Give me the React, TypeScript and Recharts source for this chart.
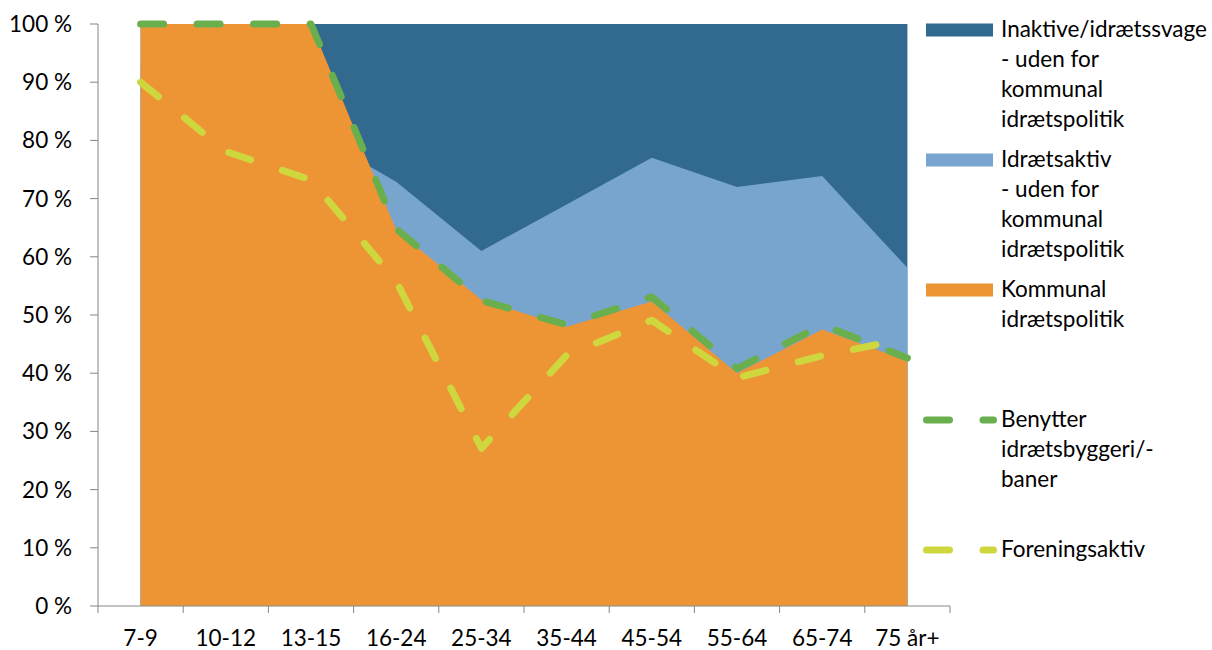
import { ComposedChart, Area, Line, XAxis, YAxis } from 'recharts'

const categories = ['7-9', '10-12', '13-15', '16-24', '25-34', '35-44', '45-54', '55-64', '65-74', '75 år+']

// the three bands overlap (not stacked), so these are the top edges in %
const inaktivTop = [100, 100, 100, 100, 100, 100, 100, 100, 100, 100]
const idraetsaktivTop = [92, 88, 81.3, 72.9, 61, 69, 77, 72, 73.9, 58.1]
const kommunal = [100, 100, 100, 64.6, 52.6, 48, 52.3, 40, 47.5, 42.1]

const benytter = [100, 100, 100, 64.8, 52.5, 48.3, 53.1, 40.8, 48.3, 42.6]
const foreningsaktiv = [90, 78.1, 73.2, 55.8, 27.1, 43.1, 49.1, 39.2, 43, 46]

const yTicks = [0, 10, 20, 30, 40, 50, 60, 70, 80, 90, 100]

const areaSeries = [
  { key: 'inaktiv', color: '#32698f', lines: ['Inaktive/idrætssvage', '- uden for', 'kommunal', 'idrætspolitik'] },
  { key: 'idraetsaktiv', color: '#78a5cd', lines: ['Idrætsaktiv', '- uden for', 'kommunal', 'idrætspolitik'] },
  { key: 'kommunal', color: '#ed9535', lines: ['Kommunal', 'idrætspolitik'] },
]
const lineSeries = [
  { key: 'benytter', color: '#6aaf4d', lines: ['Benytter', 'idrætsbyggeri/-', 'baner'] },
  { key: 'foreningsaktiv', color: '#ced83e', lines: ['Foreningsaktiv'] },
]

const data = categories.map((age, i) => ({
  age,
  inaktiv: inaktivTop[i],
  idraetsaktiv: idraetsaktivTop[i],
  kommunal: kommunal[i],
  benytter: benytter[i],
  foreningsaktiv: foreningsaktiv[i],
}))

const W = 1212
const H = 650
const PLOT_LEFT = 98
const PLOT_RIGHT = 950
const PLOT_TOP = 24
const PLOT_BOTTOM = 606
const BAND = (PLOT_RIGHT - PLOT_LEFT) / categories.length
const AXIS = '#868686'
const FONT = 'Lato, "Open Sans", sans-serif'
const FONT_SIZE = 22.5
const DASH = '23 33.5'

function AgeTick(props: any) {
  const { x, payload, index } = props
  const half = payload?.offset || BAND / 2
  const last = index === categories.length - 1
  return (
    <g>
      <line x1={x - half} x2={x - half} y1={PLOT_BOTTOM} y2={PLOT_BOTTOM + 7} stroke={AXIS} />
      {last && <line x1={x + half} x2={x + half} y1={PLOT_BOTTOM} y2={PLOT_BOTTOM + 7} stroke={AXIS} />}
      <text x={x} y={PLOT_BOTTOM + 40} textAnchor="middle" fontSize={FONT_SIZE} fontFamily={FONT} fill="#000">
        {payload.value}
      </text>
    </g>
  )
}

function LegendBox() {
  const entries = [...areaSeries.map((s) => ({ ...s, kind: 'area' })), ...lineSeries.map((s) => ({ ...s, kind: 'line' }))]
  return (
    <svg width={302} height={H} style={{ position: 'absolute', left: 910, top: 0 }}>
      {entries.map((e, i) => {
        const cy = 30 + i * 130
        return (
          <g key={e.key}>
            {e.kind === 'area' ? (
              <rect x={16} y={cy - 6.5} width={67} height={13} fill={e.color} />
            ) : (
              <line
                x1={16.5}
                x2={83.5}
                y1={cy}
                y2={cy}
                stroke={e.color}
                strokeWidth={7}
                strokeLinecap="round"
                strokeDasharray={DASH}
              />
            )}
            <text x={91} y={cy + 6.5} fontSize={FONT_SIZE} fontFamily={FONT} fill="#000">
              {e.lines.map((l, j) => (
                <tspan key={j} x={91} dy={j === 0 ? 0 : 30}>
                  {l}
                </tspan>
              ))}
            </text>
          </g>
        )
      })}
    </svg>
  )
}

export default function App() {
  return (
    <div style={{ position: 'absolute', left: 0, top: 0, width: W, height: H, background: '#fff' }}>
      <ComposedChart
        width={W}
        height={H}
        data={data}
        margin={{ top: PLOT_TOP, right: W - PLOT_RIGHT, bottom: 0, left: 0 }}
      >
        <XAxis
          dataKey="age"
          scale="band"
          interval={0}
          height={H - PLOT_BOTTOM}
          tickLine={false}
          axisLine={{ stroke: AXIS }}
          tick={<AgeTick />}
        />
        <YAxis
          domain={[0, 100]}
          ticks={yTicks}
          width={PLOT_LEFT}
          tickSize={8}
          tickMargin={18}
          tickFormatter={(v) => `${v} %`}
          axisLine={{ stroke: AXIS }}
          tickLine={{ stroke: AXIS }}
          tick={{ fontSize: FONT_SIZE, fill: '#000', fontFamily: FONT }}
        />
        {areaSeries.map((s) => (
          <Area
            key={s.key}
            type="linear"
            dataKey={s.key}
            stroke="none"
            fill={s.color}
            fillOpacity={1}
            dot={false}
            activeDot={false}
            isAnimationActive={false}
          />
        ))}
        {lineSeries.map((s) => (
          <Line
            key={s.key}
            type="linear"
            dataKey={s.key}
            stroke={s.color}
            strokeWidth={7}
            strokeDasharray={DASH}
            strokeLinecap="round"
            strokeLinejoin="round"
            dot={false}
            activeDot={false}
            isAnimationActive={false}
          />
        ))}
      </ComposedChart>
      <LegendBox />
    </div>
  )
}
